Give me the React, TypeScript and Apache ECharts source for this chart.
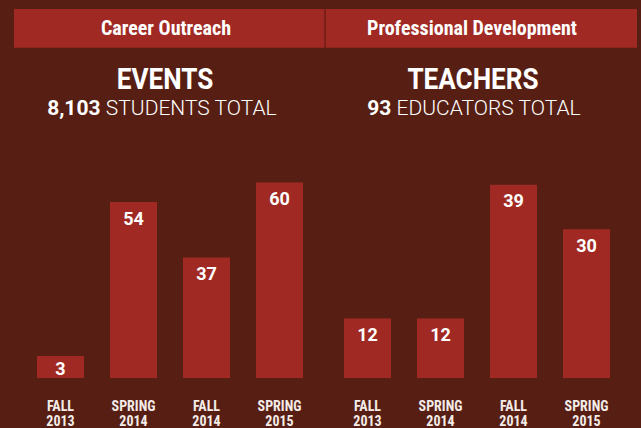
import React, { useEffect, useRef } from "react";
import * as echarts from "echarts";

const terms = ["FALL\n2013", "SPRING\n2014", "FALL\n2014", "SPRING\n2015"];
const eventsValues = [3, 54, 37, 60];
const teachersValues = [12, 12, 39, 30];
const headers = ["Career Outreach", "Professional Development"];
const titles = ["EVENTS", "TEACHERS"];
const totals = ["8,103", "93"];
const totalUnits = ["STUDENTS TOTAL", "EDUCATORS TOTAL"];

const BG = "#571F14";
const RED = "#A02A23";
const COND = "'Roboto Condensed', 'DejaVu Sans Condensed', Roboto, sans-serif";
const MAIN = "Roboto, 'Noto Sans', sans-serif";

export default function App() {
  const ref = useRef<HTMLDivElement>(null);
  useEffect(() => {
    if (!ref.current) return;
    const chart = echarts.init(ref.current, undefined, { renderer: "svg" });
    chart.setOption({
      animation: false,
      backgroundColor: BG,
      grid: [
        { left: 24, right: 325, top: 150, bottom: 50 },
        { left: 331, right: 18, top: 150, bottom: 50 },
      ],
      xAxis: [0, 1].map((i) => ({
        type: "category",
        gridIndex: i,
        data: terms,
        axisLine: { show: false },
        axisTick: { show: false },
        axisLabel: {
          interval: 0,
          color: "#F4ECE8",
          fontFamily: COND,
          fontWeight: "bold",
          fontSize: 14,
          lineHeight: 15,
          margin: 20,
        },
      })),
      yAxis: [
        { type: "value", gridIndex: 0, min: 0, max: 70, show: false },
        { type: "value", gridIndex: 1, min: 0, max: 46, show: false },
      ],
      series: [eventsValues, teachersValues].map((vals, i) => ({
        type: "bar",
        xAxisIndex: i,
        yAxisIndex: i,
        data: vals.map((v) => (v < 10 ? { value: v, label: { distance: 3 } } : v)),
        barWidth: 47,
        barMinHeight: 22,
        itemStyle: { color: RED },
        label: {
          show: true,
          position: "insideTop",
          distance: 7,
          color: "#FFFFFF",
          fontFamily: MAIN,
          fontWeight: "bold",
          fontSize: 18,
        },
      })),
      graphic: [
        { type: "rect", shape: { x: 14, y: 9, width: 310.5, height: 38.7 }, style: { fill: RED } },
        { type: "rect", shape: { x: 326, y: 9, width: 311, height: 38.7 }, style: { fill: RED } },
        { type: "rect", shape: { x: 324.5, y: 9, width: 1.5, height: 38.7 }, style: { fill: "#7A1F18" } },
        ...[0, 1].map((i) => ({
          type: "text",
          x: i === 0 ? 166 : 472,
          y: 28,
          style: { text: headers[i], fill: "#FFFFFF", font: `bold 20px ${COND}`, align: "center", verticalAlign: "middle" },
        })),
        ...[0, 1].map((i) => ({
          type: "text",
          x: i === 0 ? 165 : 473,
          y: 79,
          scaleX: 0.87,
          style: { text: titles[i], fill: "#FFFFFF", font: `bold 30px ${MAIN}`, align: "center", verticalAlign: "middle" },
        })),
        ...[0, 1].map((i) => ({
          type: "text",
          x: i === 0 ? 162 : 474,
          y: 108,
          style: {
            text: `{b|${totals[i]}} ${totalUnits[i]}`,
            fill: "#FFFFFF",
            font: `300 21px ${MAIN}`,
            align: "center",
            verticalAlign: "middle",
            rich: { b: { fontWeight: "bold", fontSize: 21, fontFamily: MAIN, fill: "#FFFFFF" } },
          },
        })),
      ],
    });
    return () => chart.dispose();
  }, []);
  return <div ref={ref} style={{ position: "fixed", left: 0, top: 0, width: 641, height: 428 }} />;
}
